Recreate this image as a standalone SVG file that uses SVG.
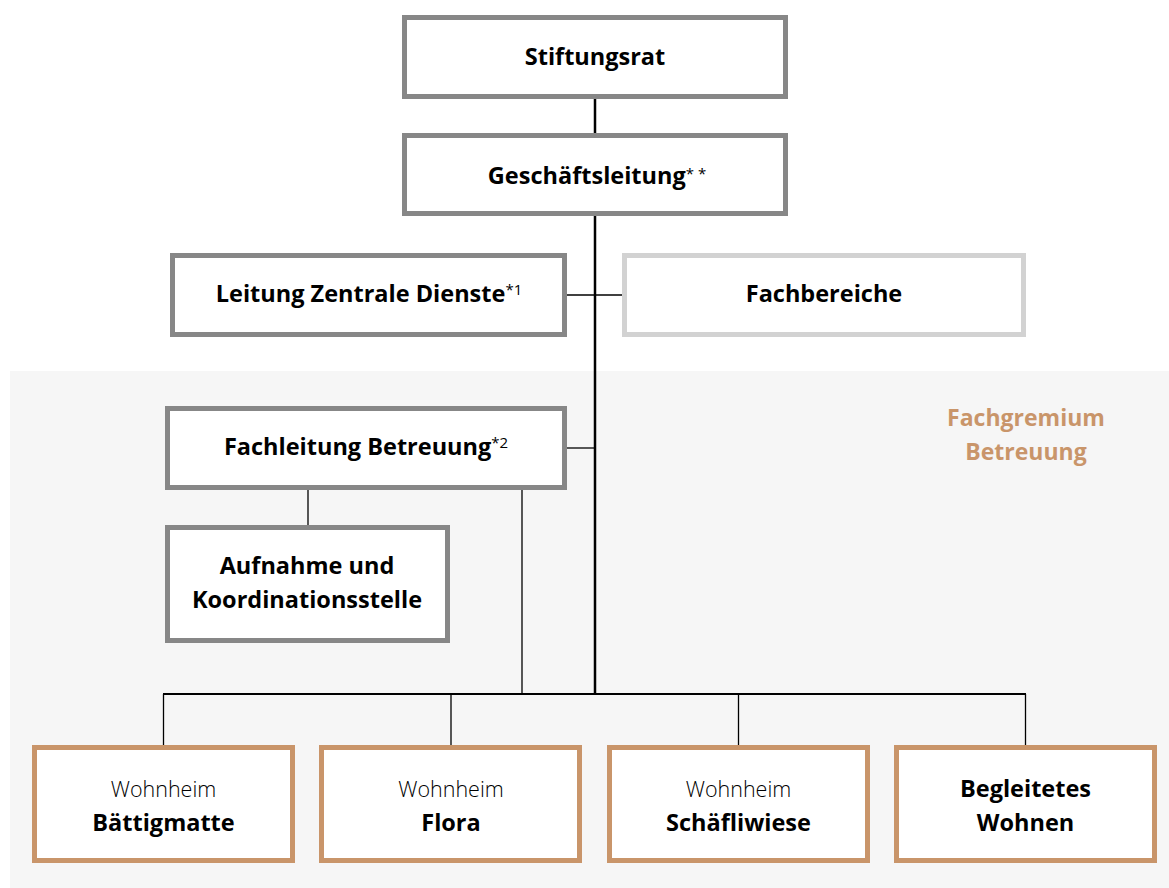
<svg xmlns="http://www.w3.org/2000/svg" width="1169" height="888" viewBox="0 0 1169 888">
<style>
.box{fill:#fff;stroke:#878787;stroke-width:5}
.lite{fill:#fff;stroke:#d2d2d2;stroke-width:5}
.tan{fill:#fff;stroke:#c9956a;stroke-width:5}
.t{font-family:"Open Sans","Noto Sans",sans-serif;font-size:23.5px;font-weight:700;fill:#000;text-anchor:middle}
.l{font-family:"Open Sans","Noto Sans",sans-serif;font-size:21.5px;font-weight:300;fill:#000;text-anchor:middle}
.sup{font-weight:400;font-size:15px}
.g{font-family:"Open Sans","Noto Sans",sans-serif;font-size:23px;font-weight:700;fill:#c9956a;text-anchor:middle}
.c{stroke:#000;fill:none}
</style>
<rect x="0" y="0" width="1169" height="888" fill="#fff"/>
<rect x="10" y="371" width="1159" height="517" fill="#f6f6f6"/>
<text class="g" x="1026" y="426">Fachgremium</text>
<text class="g" x="1026" y="460">Betreuung</text>
<g id="connectors">
<line class="c" x1="595" y1="99" x2="595" y2="695" stroke-width="2.5"/>
<line class="c" x1="163" y1="694" x2="1026" y2="694" stroke-width="2.2"/>
<line class="c" x1="567" y1="295" x2="623" y2="295" stroke-width="1.3"/>
<line class="c" x1="567" y1="448" x2="595" y2="448" stroke-width="1.3"/>
<line class="c" x1="308" y1="490" x2="308" y2="526" stroke-width="1.3"/>
<line class="c" x1="522" y1="490" x2="522" y2="694" stroke-width="1.3"/>
<line class="c" x1="163.5" y1="694" x2="163.5" y2="746" stroke-width="1.3"/>
<line class="c" x1="451" y1="694" x2="451" y2="746" stroke-width="1.3"/>
<line class="c" x1="738.5" y1="694" x2="738.5" y2="746" stroke-width="1.3"/>
<line class="c" x1="1025.5" y1="694" x2="1025.5" y2="746" stroke-width="1.3"/>
</g>
<g id="stiftungsrat">
<rect class="box" x="404.5" y="17.5" width="381" height="79"/>
<text class="t" x="595" y="65">Stiftungsrat</text>
</g>
<g id="geschaeftsleitung">
<rect class="box" x="404.5" y="135.5" width="381" height="78"/>
<text class="t" x="597" y="184">Geschäftsleitung<tspan class="sup" dy="-5">* *</tspan></text>
</g>
<g id="zentrale-dienste">
<rect class="box" x="172.5" y="255.5" width="392" height="79"/>
<text class="t" x="369" y="302">Leitung Zentrale Dienste<tspan class="sup" dy="-7">*1</tspan></text>
</g>
<g id="fachbereiche">
<rect class="lite" x="624.5" y="255.5" width="399" height="79"/>
<text class="t" x="824" y="302">Fachbereiche</text>
</g>
<g id="fachleitung">
<rect class="box" x="167.5" y="408.5" width="397" height="79"/>
<text class="t" x="366" y="455">Fachleitung Betreuung<tspan class="sup" dy="-7">*2</tspan></text>
</g>
<g id="aufnahme">
<rect class="box" x="167.5" y="527.5" width="280" height="113"/>
<text class="t" x="307" y="574">Aufnahme und</text>
<text class="t" x="307" y="608">Koordinationsstelle</text>
</g>
<g id="baettigmatte">
<rect class="tan" x="34.5" y="747.5" width="258" height="113"/>
<text class="l" x="163.5" y="797">Wohnheim</text>
<text class="t" x="163.5" y="831">Bättigmatte</text>
</g>
<g id="flora">
<rect class="tan" x="321.5" y="747.5" width="258" height="113"/>
<text class="l" x="451" y="797">Wohnheim</text>
<text class="t" x="451" y="831">Flora</text>
</g>
<g id="schaefliwiese">
<rect class="tan" x="609.5" y="747.5" width="258" height="113"/>
<text class="l" x="738.5" y="797">Wohnheim</text>
<text class="t" x="738.5" y="831">Schäfliwiese</text>
</g>
<g id="begleitetes-wohnen">
<rect class="tan" x="896.5" y="747.5" width="258" height="113"/>
<text class="t" x="1025.5" y="797">Begleitetes</text>
<text class="t" x="1025.5" y="831">Wohnen</text>
</g>
</svg>
